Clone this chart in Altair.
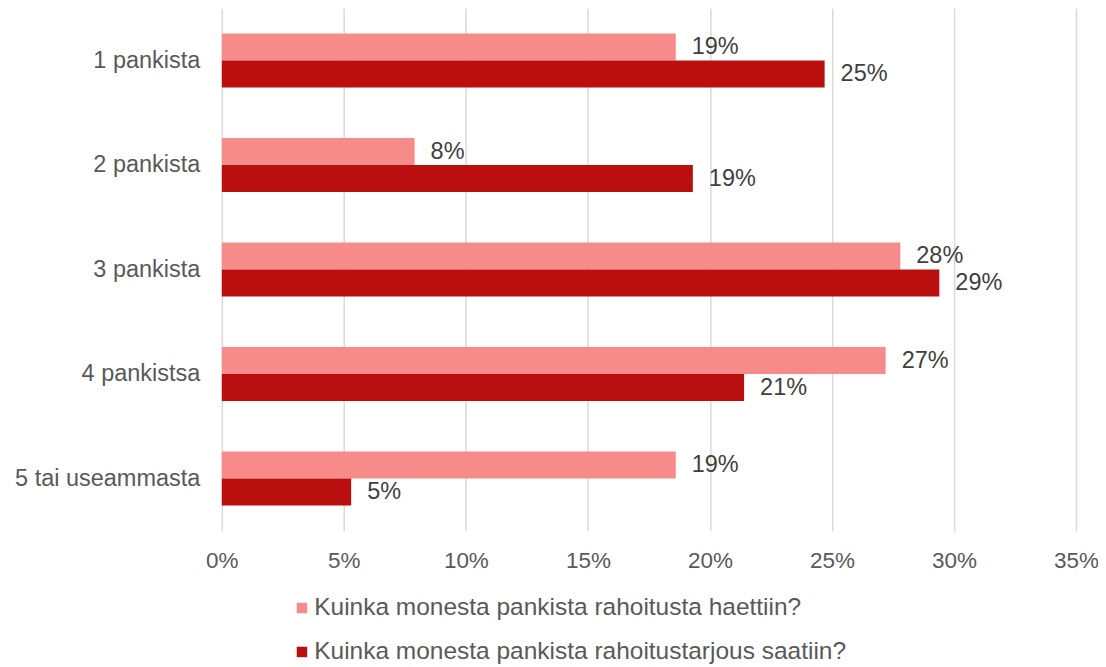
import altair as alt
import pandas as pd

categories = ["1 pankista", "2 pankista", "3 pankista", "4 pankistsa", "5 tai useammasta"]
series = ["Kuinka monesta pankista rahoitusta haettiin?",
          "Kuinka monesta pankista rahoitustarjous saatiin?"]
haettiin = [0.186, 0.079, 0.278, 0.272, 0.186]
saatiin = [0.247, 0.193, 0.294, 0.214, 0.053]
colors = ["#F68B8A", "#B90F0F"]
x_ticks = [0, 0.05, 0.10, 0.15, 0.20, 0.25, 0.30, 0.35]

rows = []
for c, a, b in zip(categories, haettiin, saatiin):
    rows.append({"cat": c, "series": series[0], "value": a})
    rows.append({"cat": c, "series": series[1], "value": b})
df = pd.DataFrame(rows)

FONT = "Liberation Sans"
FS = 23.5

y = alt.Y("cat:N", sort=categories, title=None,
          scale=alt.Scale(paddingInner=0.484, paddingOuter=0.242),
          axis=alt.Axis(domain=False, ticks=False, labelFontSize=FS, labelColor="#595959",
                        labelFont=FONT, labelPadding=22, labelLimit=400))
yoff = alt.YOffset("series:N", sort=series)
x = alt.X("value:Q", title=None,
          scale=alt.Scale(domain=[0, 0.35], nice=False),
          axis=alt.Axis(values=x_ticks, format=".0%", domain=False, ticks=False,
                        grid=True, gridColor="#D9D9D9", gridWidth=1.5,
                        labelFontSize=22.5, labelColor="#595959", labelFont=FONT,
                        labelFlush=False, labelPadding=19))

bars = alt.Chart(df).mark_bar().encode(
    y=y, yOffset=yoff, x=x,
    color=alt.Color("series:N", sort=series,
                    scale=alt.Scale(domain=series, range=colors),
                    legend=alt.Legend(title=None, orient="none", direction="vertical",
                                      legendX=68, legendY=588, padding=0,
                                      symbolType="square", symbolSize=110,
                                      symbolStrokeWidth=0, symbolOffset=0,
                                      labelFontSize=24.5, labelColor="#595959",
                                      labelFont=FONT, labelLimit=800,
                                      rowPadding=19, labelOffset=0))
)

labels = alt.Chart(df).mark_text(align="left", baseline="middle", dx=16,
                                 fontSize=FS, color="#404040", font=FONT).encode(
    y=alt.Y("cat:N", sort=categories), yOffset=yoff, x=alt.X("value:Q"),
    text=alt.Text("value:Q", format=".0%")
)

chart = alt.layer(bars, labels).properties(
    width=855, height=523,
    autosize=alt.AutoSizeParams(type="none"),
    padding={"left": 214, "top": 0, "right": 22, "bottom": 136},
).configure_view(stroke=None)

chart.save("out.html", embed_options={"renderer": "svg", "actions": False})
